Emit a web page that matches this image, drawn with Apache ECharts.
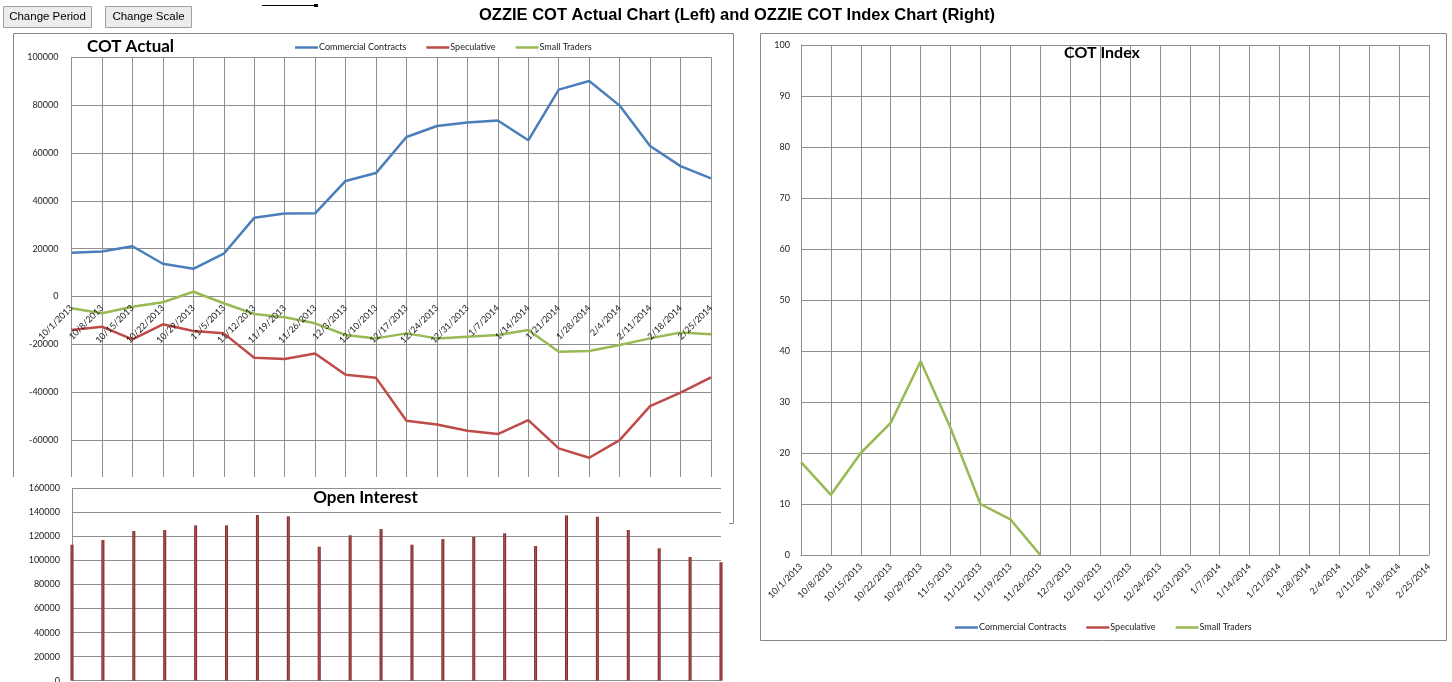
<!DOCTYPE html>
<html><head><meta charset="utf-8">
<script src="https://cdn.jsdelivr.net/npm/echarts/dist/echarts.min.js"></script>
<style>html,body{margin:0;padding:0;background:#fff}#c{width:1452px;height:682px}</style>
</head><body><div id="c"></div>
<script>
const dates = ['10/1/2013','10/8/2013','10/15/2013','10/22/2013','10/29/2013','11/5/2013','11/12/2013','11/19/2013','11/26/2013','12/3/2013','12/10/2013','12/17/2013','12/24/2013','12/31/2013','1/7/2014','1/14/2014','1/21/2014','1/28/2014','2/4/2014','2/11/2014','2/18/2014','2/25/2014'];
const commercial = [18300,18800,21000,13700,11600,17900,32900,34700,34800,48300,51600,66700,71300,72700,73600,65300,86500,90100,79800,62900,54500,49400];
const speculative = [-14000,-12600,-17900,-11600,-14400,-15400,-25600,-26100,-23800,-32700,-34000,-51900,-53500,-56100,-57500,-51700,-63500,-67400,-60000,-45800,-40200,-33800];
const smallTraders = [-4900,-7000,-4300,-2400,2000,-2800,-7300,-8700,-11200,-16100,-17500,-15400,-17500,-16800,-16100,-14000,-23100,-22800,-20300,-17500,-15000,-15800];
const openInterest = [113100,117000,124500,125300,129200,129200,137800,136700,111400,120900,126200,113100,117800,119500,122600,112000,137500,136400,125300,110100,102900,98500];
const indexCommercial = [];
const indexSpeculative = [];
const indexSmallTraders = [18.2,11.8,20,25.9,38,24.9,10,7,0,null,null,null,null,null,null,null,null,null,null,null,null,null];
const seriesNames = ['Commercial Contracts','Speculative','Small Traders'];

const FONT = 'Lato, "Noto Sans", sans-serif';
const GRID = '#8f8f8f';
const COLORS = ['#4A7EBB','#BE4B48','#98B954'];
const plain = v => String(v);
const lbl = {fontSize:9, color:'#222', fontFamily:FONT};

const chart = echarts.init(document.getElementById('c'), null, {renderer:'canvas'});

function lineSeries(name, data, xi, yi, color){
  return {name, type:'line', xAxisIndex:xi, yAxisIndex:yi, data, symbol:'none',
    lineStyle:{width:2.5, color}, itemStyle:{color}, connectNulls:false, z:3};
}
const barGrad = new echarts.graphic.LinearGradient(0,0,1,0,[
  {offset:0,color:'#6a1f1e'},{offset:0.5,color:'#b24f4c'},{offset:1,color:'#6a1f1e'}]);

const top0 = 57.3, h0 = 430.6;
const zeroOffset = -(h0 * 80000 / 180000);

const option = {
  animation:false,
  backgroundColor:'#fff',
  grid:[
    {left:71.5, top:top0, width:639.5, height:h0, outerBoundsMode:'none', containLabel:false},
    {left:72, top:488.3, width:649, height:192.4, outerBoundsMode:'none', containLabel:false, z:6},
    {left:801, top:45, width:628, height:510, outerBoundsMode:'none', containLabel:false}
  ],
  xAxis:[
    {gridIndex:0, type:'category', position:'bottom', data:dates, boundaryGap:false, offset:zeroOffset,
      axisLine:{show:true, onZero:false, lineStyle:{color:GRID}}, axisTick:{show:false},
      axisLabel:{show:false},
      splitLine:{show:true, interval:0, lineStyle:{color:GRID, width:1}}},
    {gridIndex:1, type:'category', position:'bottom', data:dates, boundaryGap:false, z:6,
      axisLine:{show:true, lineStyle:{color:GRID}}, axisTick:{show:false},
      axisLabel:{show:false}, splitLine:{show:false}},
    {gridIndex:2, type:'category', position:'bottom', data:dates, boundaryGap:false,
      axisLine:{show:true, lineStyle:{color:GRID}}, axisTick:{show:false},
      axisLabel:Object.assign({rotate:45, interval:0, margin:10}, lbl),
      splitLine:{show:true, interval:0, lineStyle:{color:GRID, width:1}}},
    {gridIndex:0, type:'category', position:'bottom', data:dates, boundaryGap:false, offset:zeroOffset, z:4,
      axisLine:{show:false, onZero:false}, axisTick:{show:false},
      axisLabel:Object.assign({rotate:45, interval:0, margin:10}, lbl),
      splitLine:{show:false}}
  ],
  yAxis:[
    {gridIndex:0, type:'value', min:-80000, max:100000, interval:20000,
      axisLine:{show:true, lineStyle:{color:GRID}}, axisTick:{show:false},
      axisLabel:Object.assign({margin:13, formatter:plain}, lbl),
      splitLine:{show:true, lineStyle:{color:GRID, width:1}}},
    {gridIndex:1, type:'value', min:0, max:160000, interval:20000, z:6,
      axisLine:{show:true, lineStyle:{color:GRID}}, axisTick:{show:false},
      axisLabel:Object.assign({margin:12, formatter:plain}, lbl),
      splitLine:{show:true, lineStyle:{color:GRID, width:1}}},
    {gridIndex:2, type:'value', min:0, max:100, interval:10,
      axisLine:{show:true, lineStyle:{color:GRID}}, axisTick:{show:false},
      axisLabel:Object.assign({margin:11, formatter:plain}, lbl),
      splitLine:{show:true, lineStyle:{color:GRID, width:1}}}
  ],
  legend:[
    {data:seriesNames, left:290, top:38, orient:'horizontal', itemGap:20, itemWidth:23, itemHeight:2.5,
      icon:'rect', textStyle:{fontSize:9, color:'#222', fontFamily:FONT, padding:[0,0,0,-4]}, selectedMode:false},
    {data:seriesNames, left:950, top:618, orient:'horizontal', itemGap:20, itemWidth:23, itemHeight:2.5,
      icon:'rect', textStyle:{fontSize:9, color:'#222', fontFamily:FONT, padding:[0,0,0,-4]}, selectedMode:false}
  ],
  series:[
    lineSeries(seriesNames[0], commercial, 0, 0, COLORS[0]),
    lineSeries(seriesNames[1], speculative, 0, 0, COLORS[1]),
    lineSeries(seriesNames[2], smallTraders, 0, 0, COLORS[2]),
    {name:'Open Interest', type:'bar', xAxisIndex:1, yAxisIndex:1, data:openInterest, barWidth:3,
      itemStyle:{color:barGrad}, z:7},
    lineSeries(seriesNames[0], indexCommercial, 2, 2, COLORS[0]),
    lineSeries(seriesNames[1], indexSpeculative, 2, 2, COLORS[1]),
    lineSeries(seriesNames[2], indexSmallTraders, 2, 2, COLORS[2])
  ],
  graphic:[
    {type:'rect', shape:{x:13.5, y:33.5, width:720, height:490}, style:{fill:null, stroke:'#868686', lineWidth:1}, z:0, silent:true},
    {type:'rect', shape:{x:760.5, y:33.5, width:686, height:607}, style:{fill:null, stroke:'#868686', lineWidth:1}, z:0, silent:true},
    {type:'rect', shape:{x:0, y:477, width:729, height:205}, style:{fill:'#fff'}, z:5, silent:true},
    {type:'line', shape:{x1:262, y1:5.5, x2:316, y2:5.5}, style:{stroke:'#000', lineWidth:1}, z:10},
    {type:'rect', shape:{x:314, y:4, width:4, height:3}, style:{fill:'#000'}, z:10},
    {type:'rect', shape:{x:3.5, y:6.5, width:88, height:21}, style:{fill:'#ececec', stroke:'#a0a0a0', lineWidth:1}, z:10},
    {type:'rect', shape:{x:105.5, y:6.5, width:86, height:21}, style:{fill:'#ececec', stroke:'#a0a0a0', lineWidth:1}, z:10},
    {type:'text', x:47.5, y:17, style:{text:'Change Period', fontSize:11.5, fontFamily:'"Liberation Sans", Arial, sans-serif', fill:'#000', align:'center', verticalAlign:'middle'}, z:11},
    {type:'text', x:148.5, y:17, style:{text:'Change Scale', fontSize:11.5, fontFamily:'"Liberation Sans", Arial, sans-serif', fill:'#000', align:'center', verticalAlign:'middle'}, z:11},
    {type:'text', x:737, y:15, style:{text:'OZZIE COT Actual Chart (Left) and OZZIE COT Index Chart (Right)', fontSize:16.5, fontWeight:'bold', fontFamily:'"Liberation Sans", Arial, sans-serif', fill:'#000', align:'center', verticalAlign:'middle'}, z:11},
    {type:'text', x:130.5, y:47, style:{text:'COT Actual', fontSize:17, fontWeight:'bold', fontFamily:FONT, fill:'#000', align:'center', verticalAlign:'middle'}, z:11},
    {type:'text', x:365.5, y:497.5, style:{text:'Open Interest', fontSize:17, fontWeight:'bold', fontFamily:FONT, fill:'#000', align:'center', verticalAlign:'middle'}, z:11},
    {type:'text', x:1102, y:53, style:{text:'COT Index', fontSize:16, fontWeight:'bold', fontFamily:FONT, fill:'#000', align:'center', verticalAlign:'middle'}, z:11}
  ]
};
chart.setOption(option);
</script></body></html>
